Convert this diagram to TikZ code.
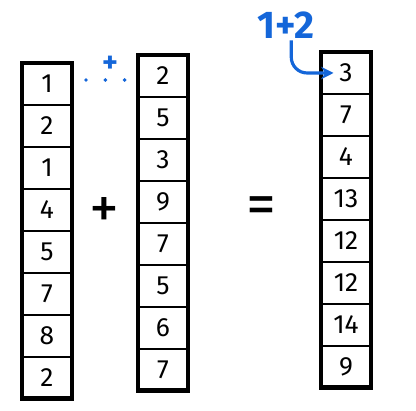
\documentclass[tikz,border=0pt]{standalone}
\usepackage{fontspec}
\setmainfont{Fira Sans}
\usetikzlibrary{arrows.meta, positioning}
\definecolor{penblue}{HTML}{1466D9}
\tikzset{
  cell/.style={draw, line width=1.5pt, minimum width=1cm, minimum height=0.84cm, inner sep=0pt, outer sep=0pt, font=\fontsize{15}{17}\selectfont},
  colframe/.style={draw, line width=2.8pt},
  op/.style={font=\fontsize{34}{36}\selectfont},
  note/.style={text=penblue, font=\fontsize{22}{24}\selectfont\bfseries, inner sep=1pt},
  hint/.style={penblue, line width=2.2pt, line cap=round, dash pattern=on 0pt off 11pt},
  carry/.style={-{Stealth[length=7pt,width=7pt]}, penblue, line width=1.8pt, rounded corners=9pt}
}
\begin{document}
\begin{tikzpicture}[x=0.02cm, y=-0.02cm]
		\useasboundingbox (0,0) rectangle (416,411);
		% left vector
		\node[cell] (l1) at (47,84) {1};
		\node[cell, below=0pt of l1] (l2) {2};
		\node[cell, below=0pt of l2] (l3) {1};
		\node[cell, below=0pt of l3] (l4) {4};
		\node[cell, below=0pt of l4] (l5) {5};
		\node[cell, below=0pt of l5] (l6) {7};
		\node[cell, below=0pt of l6] (l7) {8};
		\node[cell, below=0pt of l7] (l8) {2};
		\draw[colframe] (l1.north west) rectangle (l8.south east);
		% middle vector
		\node[cell] (m1) at (163,76) {2};
		\node[cell, below=0pt of m1] (m2) {5};
		\node[cell, below=0pt of m2] (m3) {3};
		\node[cell, below=0pt of m3] (m4) {9};
		\node[cell, below=0pt of m4] (m5) {7};
		\node[cell, below=0pt of m5] (m6) {5};
		\node[cell, below=0pt of m6] (m7) {6};
		\node[cell, below=0pt of m7] (m8) {7};
		\draw[colframe] (m1.north west) rectangle (m8.south east);
		% result
		\node[cell] (r1) at (346,73) {3};
		\node[cell, below=0pt of r1] (r2) {7};
		\node[cell, below=0pt of r2] (r3) {4};
		\node[cell, below=0pt of r3] (r4) {13};
		\node[cell, below=0pt of r4] (r5) {12};
		\node[cell, below=0pt of r5] (r6) {12};
		\node[cell, below=0pt of r6] (r7) {14};
		\node[cell, below=0pt of r7] (r8) {9};
		\draw[colframe] (r1.north west) rectangle (r8.south east);
		% operators
		\node[op] (plus) at (104,213) {+};
		\node[op] (eq) at (261,211) {=};
		% element-wise hint
		\coordinate (hs) at (86,80);
		\coordinate (he) at (130,80);
		\draw[hint] (hs) -- (he);
		\node[text=penblue, font=\fontsize{17}{19}\selectfont\bfseries] (pl) at (110,64) {+};
		\node[note] (sum) at (286,25) {1+2};
		\draw[carry] ([xshift=3pt]sum.south) |- ([xshift=-0.25cm]r1.center);
\end{tikzpicture}
\end{document}
